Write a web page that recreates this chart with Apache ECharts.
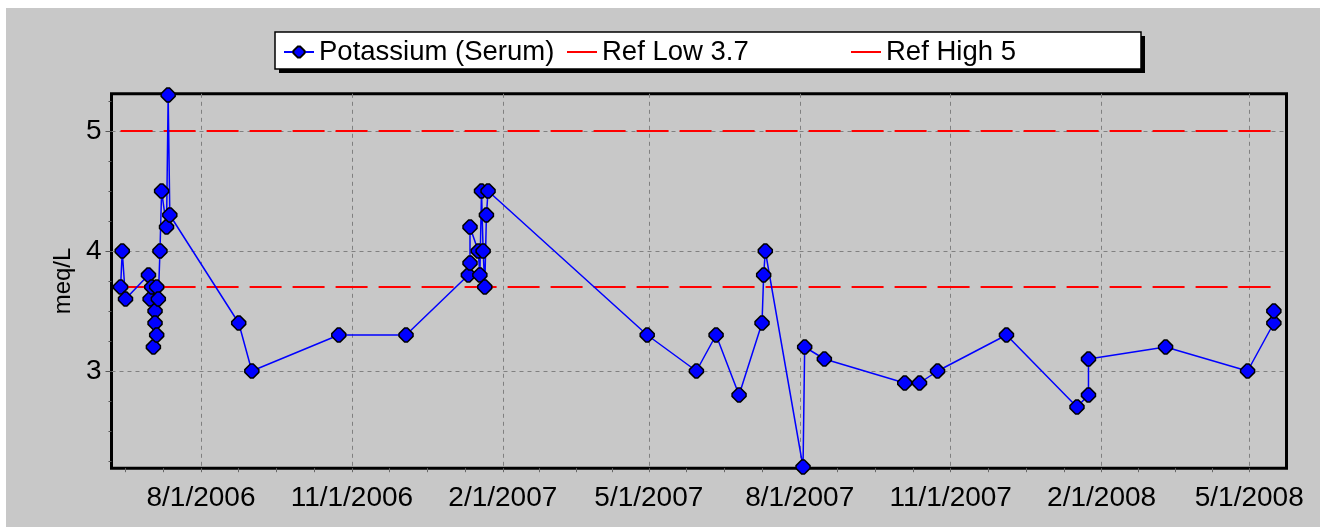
<!DOCTYPE html>
<html>
<head>
<meta charset="utf-8">
<script src="https://cdn.jsdelivr.net/npm/echarts@6/dist/echarts.min.js"></script>
<style>
  html, body { margin: 0; padding: 0; background: #fff; }
  #chart {
    width: 1320px;
    height: 527px;
    background: #c8c8c8;
    box-shadow: inset 6px 8px 0 0 #fff;
  }
</style>
</head>
<body>
<div id="chart"></div>
<script>
// measurement dates and potassium values (meq/L)
const dates = [
  '2006-06-13', '2006-06-14', '2006-06-16', '2006-06-30', '2006-07-01',
  '2006-07-02', '2006-07-03', '2006-07-04', '2006-07-04', '2006-07-05',
  '2006-07-05', '2006-07-06', '2006-07-07', '2006-07-08', '2006-07-11',
  '2006-07-12', '2006-07-13', '2006-08-24', '2006-09-01', '2006-10-24',
  '2006-12-04', '2007-01-11', '2007-01-12', '2007-01-12', '2007-01-17',
  '2007-01-18', '2007-01-19', '2007-01-20', '2007-01-21', '2007-01-22',
  '2007-01-23', '2007-04-30', '2007-05-30', '2007-06-11', '2007-06-25',
  '2007-07-09', '2007-07-10', '2007-07-11', '2007-08-03', '2007-08-04',
  '2007-08-16', '2007-10-04', '2007-10-13', '2007-10-24', '2007-12-05',
  '2008-01-17', '2008-01-24', '2008-01-24', '2008-03-11', '2008-04-30',
  '2008-05-16', '2008-05-16'
]
const potassium = [
  3.7, 4.0, 3.6, 3.8, 3.6,
  3.7, 3.2, 3.5, 3.4, 3.3,
  3.7, 3.6, 4.0, 4.5, 4.2,
  5.3, 4.3, 3.4, 3.0, 3.3,
  3.3, 3.8, 3.9, 4.2, 4.0,
  3.8, 4.5, 4.0, 3.7, 4.3,
  4.5, 3.3, 3.0, 3.3, 2.8,
  3.4, 3.8, 4.0, 2.2, 3.2,
  3.1, 2.9, 2.9, 3.0, 3.3,
  2.7, 2.8, 3.1, 3.2, 3.0,
  3.4, 3.5
]
const refLow = 3.7
const refHigh = 5

// axis labels
const xLabels = ['2006-08-01', '2006-11-01', '2007-02-01', '2007-05-01', '2007-08-01', '2007-11-01', '2008-02-01', '2008-05-01']
const yLabels = [3, 4, 5]
const xMin = '2006-06-07T11:00:00Z'
const xMax = '2008-05-23T17:00:00Z'
const yMin = 2.19
const yMax = 5.31

const FONT = 'Liberation Sans'
const t = s => new Date(s).getTime()
const fmtDate = v => {
  const d = new Date(v)
  return (d.getUTCMonth() + 1) + '/' + d.getUTCDate() + '/' + d.getUTCFullYear()
}

// minor ticks: each 3-month step split in four
const xMajor = xLabels.map(t)
const xTicks = []
const firstStep = (xMajor[1] - xMajor[0]) / 4
xTicks.push(xMajor[0] - 2 * firstStep, xMajor[0] - firstStep)
for (let i = 0; i < xMajor.length; i++) {
  xTicks.push(xMajor[i])
  if (i < xMajor.length - 1) {
    const step = (xMajor[i + 1] - xMajor[i]) / 4
    for (let k = 1; k < 4; k++) xTicks.push(xMajor[i] + k * step)
  }
}
const yTicks = []
for (let v = 2.25; v <= 5.25; v += 0.25) yTicks.push(+v.toFixed(2))

const points = dates.map((d, i) => [t(d), potassium[i]])
const first = t(dates[0])
const last = t(dates[dates.length - 1])

const gridLine = { show: true, lineStyle: { color: '#808080', width: 1, type: [4, 4] } }
const legendBase = {
  top: 38,
  padding: 0,
  itemWidth: 30,
  itemHeight: 14,
  itemGap: 0,
  textStyle: { fontFamily: FONT, fontSize: 27.5, color: '#000' },
  lineStyle: { type: 'solid' }
}
const refLegend = { icon: 'rect', itemHeight: 2 }

const chart = echarts.init(document.getElementById('chart'))
chart.setOption({
  animation: false,
  backgroundColor: 'transparent',
  graphic: [
    { type: 'rect', shape: { x: 279, y: 36, width: 866, height: 37 }, style: { fill: '#000' }, z: 0 },
    { type: 'rect', shape: { x: 275, y: 32, width: 866, height: 37 }, style: { fill: '#fff', stroke: '#000', lineWidth: 1.5 }, z: 1 }
  ],
  legend: [
    Object.assign({}, legendBase, { left: 283, data: ['Potassium (Serum)'] }),
    Object.assign({}, legendBase, refLegend, { left: 567, data: ['Ref Low 3.7'] }),
    Object.assign({}, legendBase, refLegend, { left: 851, data: ['Ref High 5'] })
  ],
  grid: {
    left: 111.5, right: 33.5, top: 93.8, bottom: 58.8,
    show: true, backgroundColor: '#c8c8c8', borderColor: '#000', borderWidth: 3
  },
  xAxis: [
    {
      type: 'value', min: t(xMin), max: t(xMax),
      axisLine: { show: false, onZero: false },
      axisTick: { show: true, customValues: xTicks, length: 4, lineStyle: { color: '#666' } },
      axisLabel: { customValues: xMajor, formatter: fmtDate, fontFamily: FONT, fontSize: 28, color: '#000', margin: 16 },
      splitLine: { show: false }
    },
    {
      type: 'value', position: 'bottom', min: t(xMin), max: t(xMax),
      axisLine: { show: false, onZero: false },
      axisTick: { show: false, customValues: xMajor },
      axisLabel: { show: false },
      splitLine: gridLine
    }
  ],
  yAxis: [
    {
      type: 'value', position: 'left', min: yMin, max: yMax,
      name: 'meq/L', nameLocation: 'middle', nameGap: 33,
      nameTextStyle: { fontFamily: FONT, fontSize: 24, color: '#000' },
      axisLine: { show: false, onZero: false },
      axisTick: { show: true, customValues: yTicks, length: 3, lineStyle: { color: '#555' } },
      axisLabel: { customValues: yLabels, fontFamily: FONT, fontSize: 28, color: '#000', margin: 10 },
      splitLine: { show: false }
    },
    {
      type: 'value', position: 'left', min: yMin, max: yMax,
      axisLine: { show: false, onZero: false },
      axisTick: { show: true, customValues: yLabels, length: 6, lineStyle: { color: '#555' } },
      axisLabel: { show: false },
      splitLine: gridLine
    }
  ],
  series: [
    {
      name: 'Ref Low 3.7', type: 'line', symbol: 'none',
      data: [[first, refLow], [last, refLow]],
      lineStyle: { color: '#ff0000', width: 2, type: [32, 11] },
      itemStyle: { color: '#ff0000' }, z: 3
    },
    {
      name: 'Ref High 5', type: 'line', symbol: 'none',
      data: [[first, refHigh], [last, refHigh]],
      lineStyle: { color: '#ff0000', width: 2, type: [32, 11] },
      itemStyle: { color: '#ff0000' }, z: 3
    },
    {
      name: 'Potassium (Serum)', type: 'line',
      data: points,
      symbol: 'path://M4,0 L6,0 L10,4 L10,6 L6,10 L4,10 L0,6 L0,4 Z',
      symbolSize: 14,
      lineStyle: { color: '#0000ff', width: 1.5 },
      itemStyle: { color: '#0000ff', borderColor: '#000', borderWidth: 1.5 },
      z: 5
    }
  ]
})
</script>
</body>
</html>
